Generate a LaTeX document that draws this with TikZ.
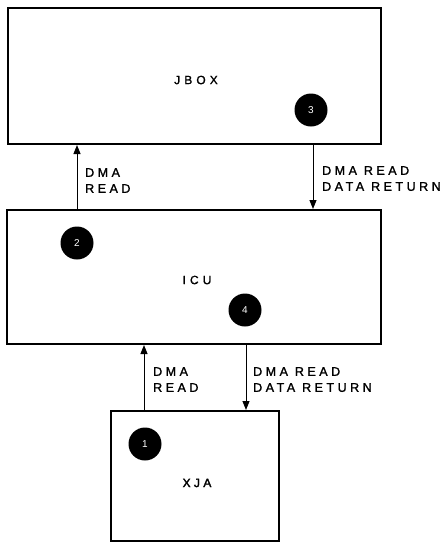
\documentclass[tikz,border=0pt]{standalone}
\usepackage{fontspec}
\setmainfont{Liberation Sans}
\newfontfamily\lblfont{Liberation Sans}[LetterSpace=28,FakeBold=1.5]
\newfontfamily\boxfont{Liberation Sans}[LetterSpace=34,FakeBold=1.3]
\newfontfamily\xjafont{Liberation Sans}[LetterSpace=28,FakeBold=2.5]
\usetikzlibrary{arrows.meta}
\begin{document}
\begin{tikzpicture}[x=1pt,y=-1pt,
  box/.style={draw, line width=2pt, inner sep=0pt},
  boxlbl/.style={inner sep=0pt, font=\boxfont\fontsize{12}{14}\selectfont},
  lbl/.style={anchor=north west, inner sep=0pt, align=left, font=\lblfont\fontsize{12.5}{16}\selectfont},
  dot/.style={circle, fill=black, minimum size=33pt, inner sep=0pt, text=white, font=\fontsize{10}{10}\selectfont},
  arr/.style={line width=1pt, -{Triangle[length=9pt,width=7pt]}}]
\useasboundingbox (0,0) rectangle (446,544);
\node[box, minimum width=373pt, minimum height=136pt] (jbox) at (194.5,76) {};
\node[box, minimum width=374pt, minimum height=134pt] (icu) at (194,277) {};
\node[box, minimum width=168pt, minimum height=130pt] (xja) at (195,476) {};
\node[boxlbl] (tj) at (196,80) {JBOX};
\node[boxlbl] (ti) at (197,280) {ICU};
\node[boxlbl, font=\xjafont\fontsize{12}{14}\selectfont] (tx) at (197,483) {XJA};
\node[dot] (n3) at (311,110) {3};
\node[dot] (n2) at (77,243) {2};
\node[dot] (n4) at (245,310) {4};
\node[dot] (n1) at (145,444) {1};
\coordinate (c1) at (77,0);
\coordinate (c2) at (313,0);
\coordinate (c3) at (144,0);
\coordinate (c4) at (246,0);
\draw[arr] (icu.north -| c1) -- (jbox.south -| c1);
\draw[arr] (jbox.south -| c2) -- (icu.north -| c2);
\draw[arr] (xja.north -| c3) -- (icu.south -| c3);
\draw[arr] (icu.south -| c4) -- (xja.north -| c4);
\node[lbl] (l1) at (85,168) {DMA\\READ};
\node[lbl] (l2) at (322,166) {DMA READ\\DATA RETURN};
\node[lbl] (l3) at (153,367) {DMA\\READ};
\node[lbl] (l4) at (253,367) {DMA READ\\DATA RETURN};
\end{tikzpicture}
\end{document}
